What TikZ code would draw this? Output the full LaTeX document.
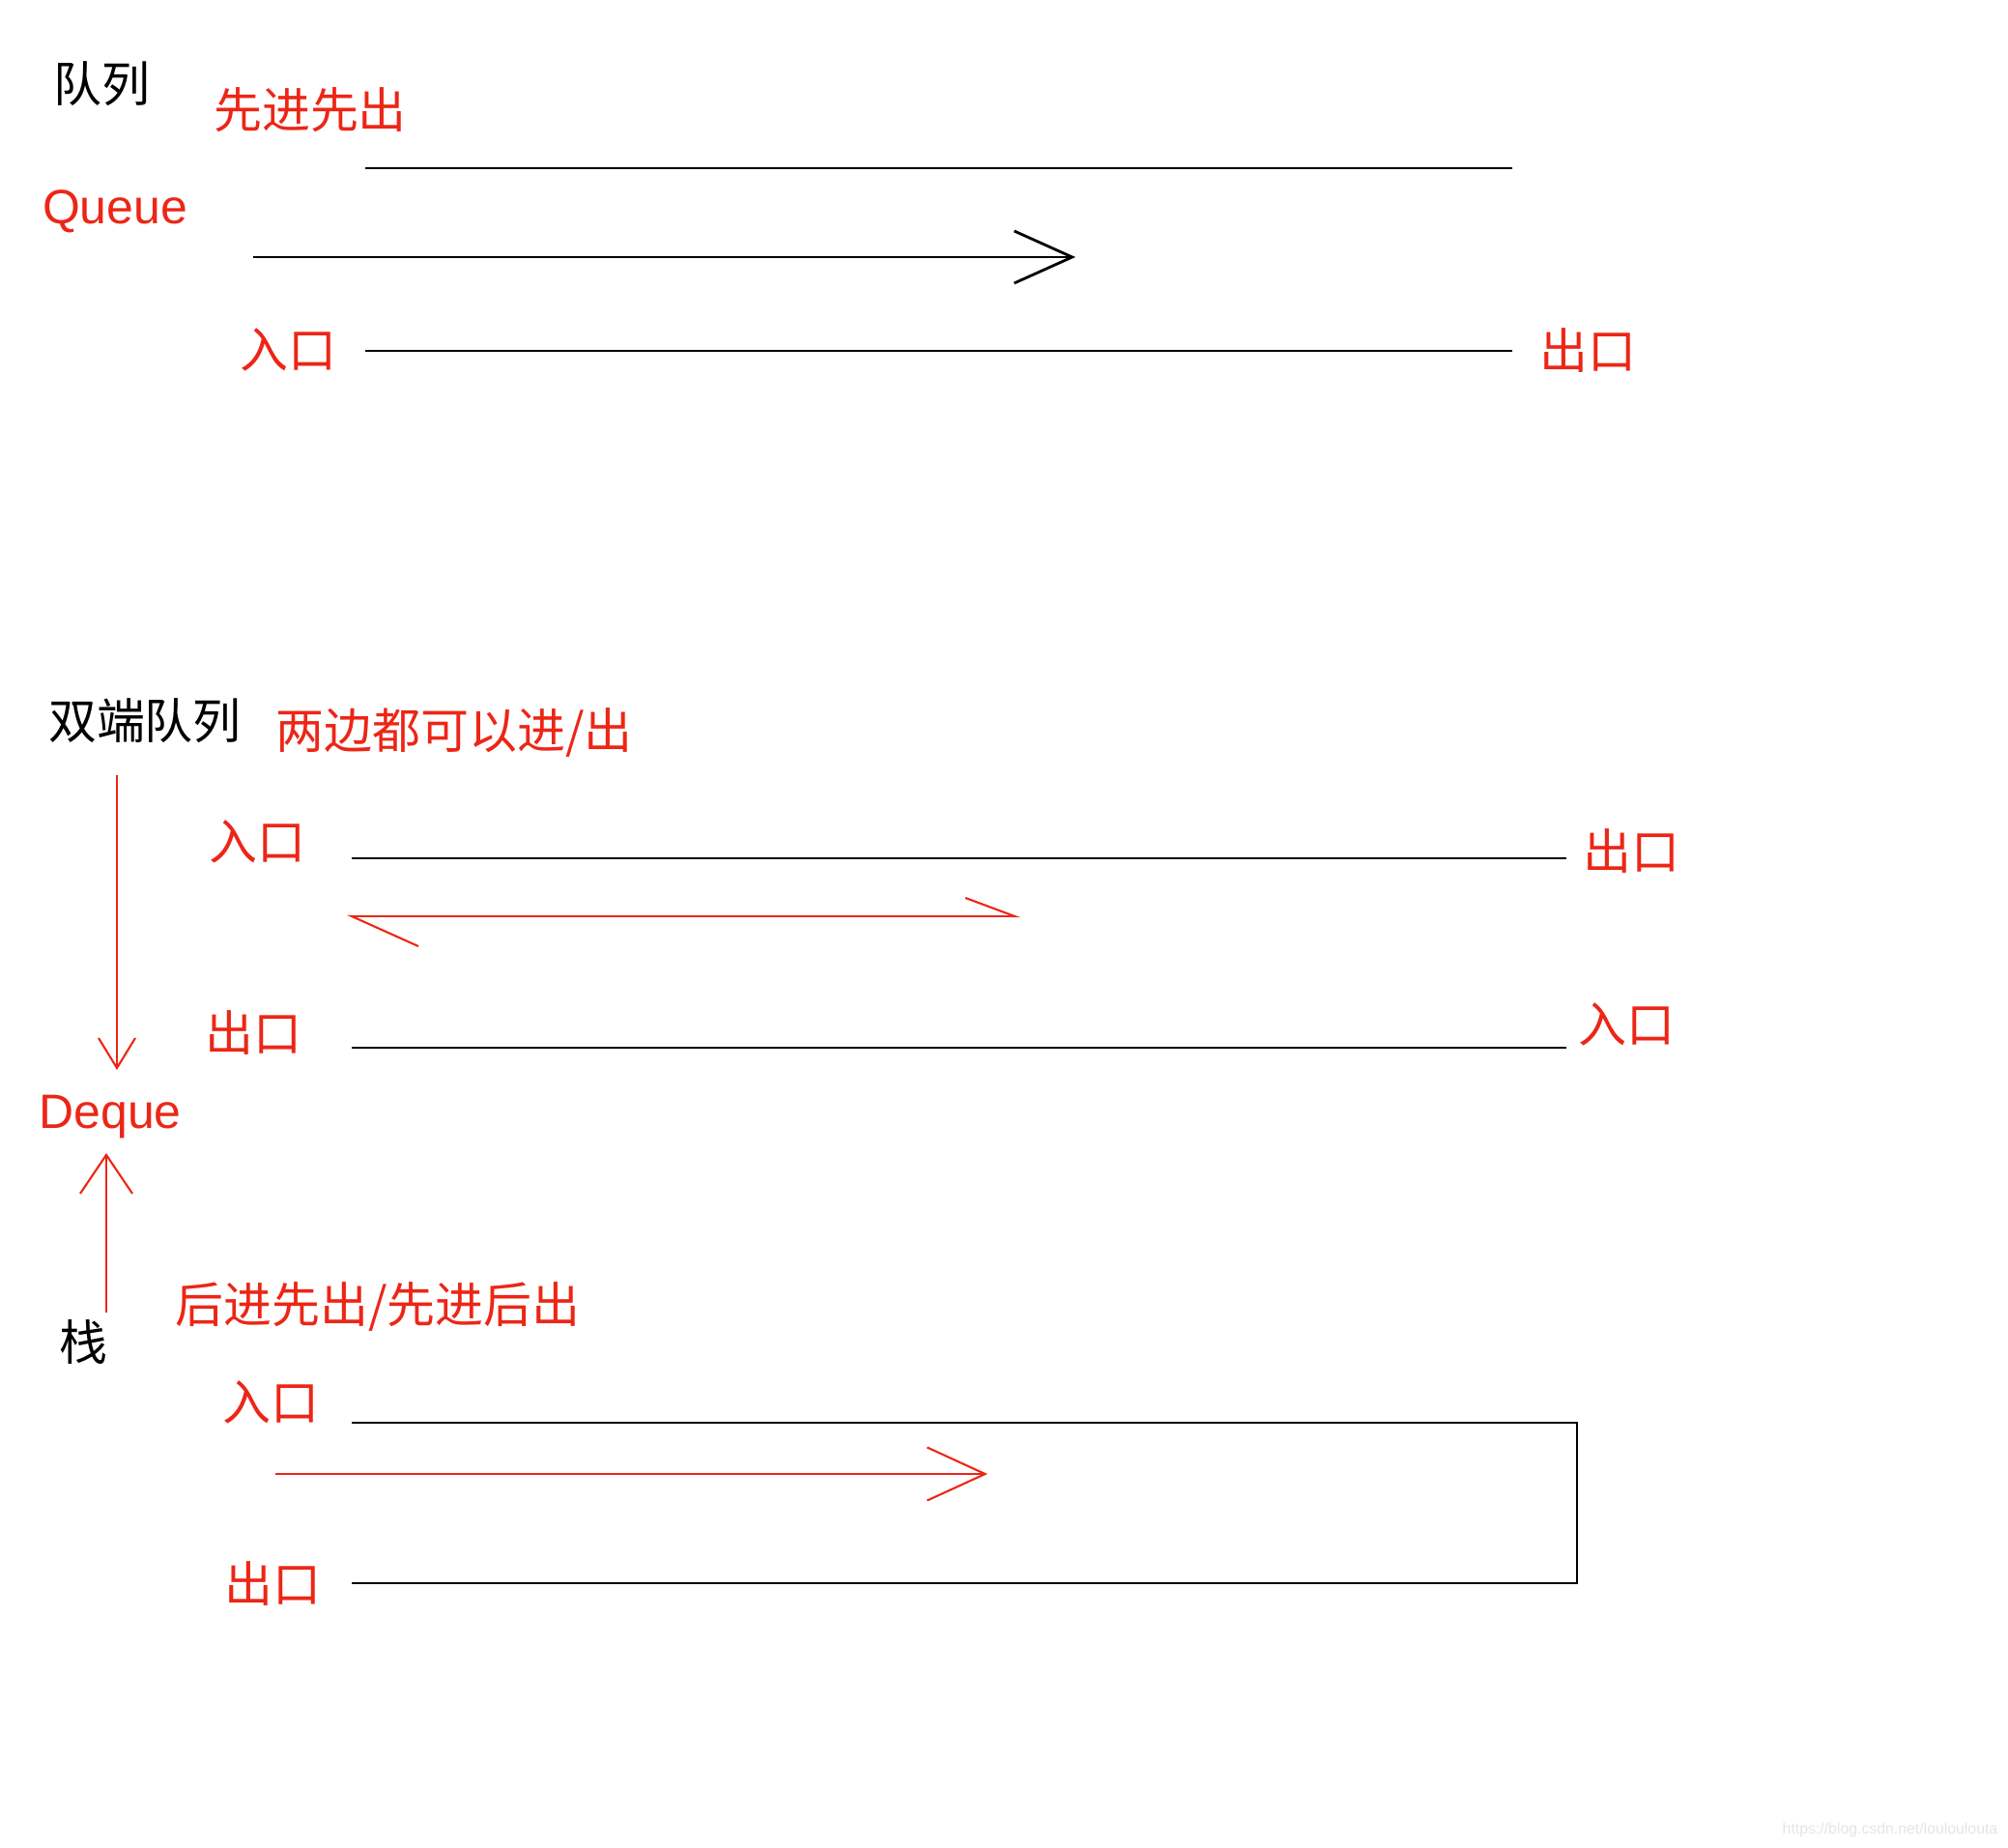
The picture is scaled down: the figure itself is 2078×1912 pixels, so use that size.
\documentclass[tikz,border=0pt]{standalone}
\usepackage{fontspec}
\setmainfont{Liberation Sans}
\newfontfamily\cjk{Noto Sans CJK SC}
\usetikzlibrary{arrows.meta}
\definecolor{mkred}{RGB}{236,38,22}
\tikzset{
	lbl/.style={inner sep=0pt, font=\cjk\fontsize{14.2pt}{17pt}\selectfont},
	redlbl/.style={lbl, text=mkred},
	word/.style={inner sep=0pt, text=mkred, font=\fontsize{14.2pt}{17pt}\selectfont},
	wall/.style={line width=0.8pt},
	flow/.style={line width=0.6pt, draw=mkred},
}

\begin{document}
\begin{tikzpicture}[x=0.01cm, y=-0.01cm]
			\useasboundingbox (0, 0) rectangle (2078, 1912);
			\node[lbl] (qtitle) at (105, 87) {队列};
			\node[redlbl] (qrule) at (321, 114) {先进先出};
			\node[word] (qname) at (119, 219) {Queue};
			\node[redlbl] (qin) at (298, 362) {入口};
			\node[redlbl] (qout) at (1643, 362) {出口};
			\coordinate (qtopl) at (378, 174);
			\coordinate (qtopr) at (1565, 174);
			\coordinate (qbotl) at (378, 363);
			\coordinate (qbotr) at (1565, 363);
			\coordinate (qfrom) at (262, 266);
			\coordinate (qto) at (1113, 266);
			\draw[wall] (qtopl) -- (qtopr);
			\draw[wall] (qbotl) -- (qbotr);
			\draw[wall, -{Straight Barb[length=6mm, width=5.4mm]}] (qfrom) -- (qto);
			\node[lbl] (dtitle) at (150, 746) {双端队列};
			\node[redlbl] (drule) at (470, 758) {两边都可以进/出};
			\node[redlbl] (din1) at (266, 871) {入口};
			\node[redlbl] (dout1) at (1688, 880) {出口};
			\node[redlbl] (dout2) at (262, 1068) {出口};
			\node[redlbl] (din2) at (1683, 1060) {入口};
			\node[word] (dname) at (114, 1155) {Deque};
			\coordinate (dtopl) at (364, 888);
			\coordinate (dtopr) at (1621, 888);
			\coordinate (dbotl) at (364, 1084);
			\coordinate (dbotr) at (1621, 1084);
			\coordinate (dleft) at (359, 948);
			\coordinate (dright) at (1056, 948);
			\coordinate (dgo) at (121, 802);
			\coordinate (dhit) at (121, 1107);
			\draw[wall] (dtopl) -- (dtopr);
			\draw[wall] (dbotl) -- (dbotr);
			\draw[flow, {Straight Barb[left, length=6.9mm, width=6.2mm]}-{Straight Barb[left, length=5.1mm, width=3.8mm]}] (dleft) -- (dright);
			\draw[flow, -{Straight Barb[length=3.1mm, width=3.8mm]}] (dgo) -- (dhit);
			\node[lbl] (stitle) at (86, 1389) {栈};
			\node[redlbl] (srule) at (391, 1352) {后进先出/先进后出};
			\node[redlbl] (sin) at (280, 1451) {入口};
			\node[redlbl] (sout) at (282, 1638) {出口};
			\coordinate (stopl) at (364, 1472);
			\coordinate (stopr) at (1632, 1472);
			\coordinate (sbotr) at (1632, 1638);
			\coordinate (sbotl) at (364, 1638);
			\coordinate (sfrom) at (285, 1525);
			\coordinate (sto) at (1022, 1525);
			\coordinate (sgo) at (110, 1358);
			\coordinate (shit) at (110, 1193);
			\draw[wall] (stopl) -- (stopr) -- (sbotr) -- (sbotl);
			\draw[flow, -{Straight Barb[length=6mm, width=5.5mm]}] (sfrom) -- (sto);
			\draw[flow, -{Straight Barb[length=4mm, width=5.4mm]}] (sgo) -- (shit);
			\node[inner sep=0pt, text=black!10, font=\fontsize{4.5pt}{5.5pt}\selectfont] (mark) at (1956, 1893) {https://blog.csdn.net/louloulouta};
		\end{tikzpicture}
\end{document}
